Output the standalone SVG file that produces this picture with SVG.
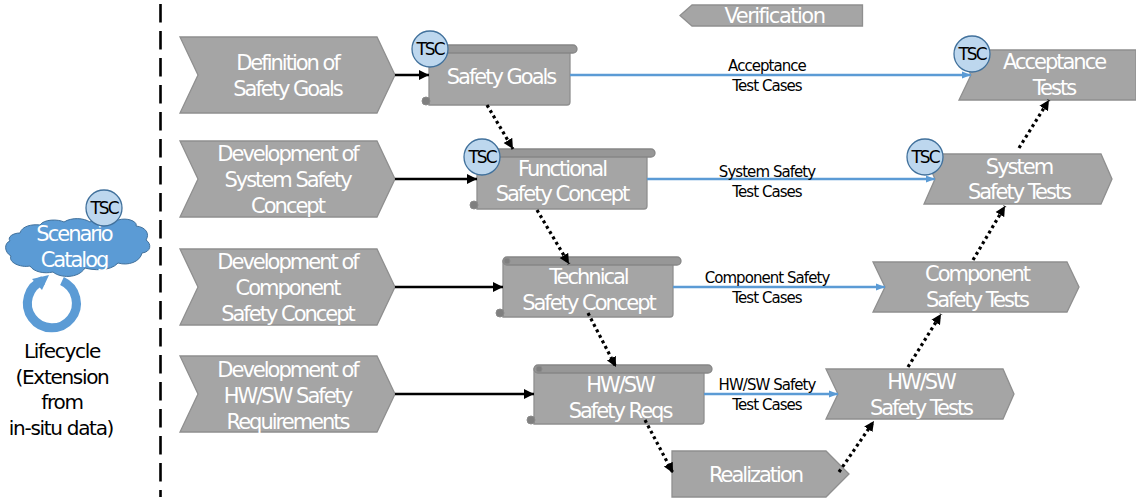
<svg xmlns="http://www.w3.org/2000/svg" width="1136" height="499" viewBox="0 0 1136 499">
<style>
text{font-family:"DejaVu Sans",sans-serif;text-anchor:middle}
.sh{fill:#a5a5a5;stroke:#8f8f8f;stroke-width:1.3}
.bar{fill:#979797;stroke:#878787;stroke-width:1.3}
.curl{fill:#7f7f7f;stroke:#8a8a8a}
.t{fill:#fff;font-size:21px;letter-spacing:-2px}
.v{letter-spacing:-1.5px}
.l{fill:#000;font-size:15px;letter-spacing:-.95px}
.b{fill:#000;font-size:20px;letter-spacing:-1.3px}
.tsc{fill:#bdd7ee;stroke:#41719c;stroke-width:1.3}
.tt{fill:#000;font-size:17px;letter-spacing:-2px}
.s{stroke:#000;stroke-width:2.6;fill:none}
.d{stroke:#000;stroke-width:3.2;stroke-dasharray:3 3.2;fill:none}
.bl{stroke:#5b9bd5;stroke-width:2.6;fill:none}
</style>
<defs>
<marker id="ak" markerUnits="userSpaceOnUse" markerWidth="11" markerHeight="12" refX="10" refY="6" orient="auto"><path d="M0 1L10 6L0 11Z" fill="#000"/></marker>
<marker id="ab" markerUnits="userSpaceOnUse" markerWidth="10" markerHeight="8" refX="9" refY="4" orient="auto"><path d="M0 0.5L9 4L0 7.5Z" fill="#5b9bd5"/></marker>
</defs>
<path d="M160.500 4V497" stroke="#000" stroke-width="2.6" stroke-dasharray="18.500 8.500" fill="none"/>
<g id="verification"><path class="sh" d="M680 15.500L692 5H862.500V26H692Z"/><text class="t v" x="774.500" y="22.500">Verification</text></g>
<g id="def-goals"><path class="sh" d="M180 37H377L395 75L377 113H180L198 75Z"/><text class="t" x="287.500" y="69.500">Definition of</text><text class="t" x="287.500" y="95.500">Safety Goals</text></g>
<g id="dev-system"><path class="sh" d="M180 141H377L395 179L377 217H180L198 179Z"/><text class="t" x="287.500" y="160.500">Development of</text><text class="t" x="287.500" y="186.500">System Safety</text><text class="t" x="287.500" y="212.500">Concept</text></g>
<g id="dev-component"><path class="sh" d="M180 249H377L395 287L377 325H180L198 287Z"/><text class="t" x="287.500" y="268.500">Development of</text><text class="t" x="287.500" y="294.500">Component</text><text class="t" x="287.500" y="320.500">Safety Concept</text></g>
<g id="dev-hwsw"><path class="sh" d="M180 356H377L395 394L377 432H180L198 394Z"/><text class="t" x="287.500" y="376.500">Development of</text><text class="t" x="287.500" y="402.500">HW/SW Safety</text><text class="t" x="287.500" y="428.500">Requirements</text></g>
<g id="safety-goals"><path class="sh" d="M429 49H570V102Q570 105 567 105H429Z"/><circle class="curl" cx="426" cy="101" r="4"/><rect class="bar" x="429" y="45" width="148" height="8" rx="4"/><text class="t" x="501" y="83.500">Safety Goals</text></g>
<g id="functional"><path class="sh" d="M477 153H647V206Q647 209 644 209H477Z"/><circle class="curl" cx="474" cy="205" r="4"/><rect class="bar" x="477" y="149" width="178" height="8" rx="4"/><text class="t" x="562" y="175.500">Functional</text><text class="t" x="562" y="200.500">Safety Concept</text></g>
<g id="technical"><path class="sh" d="M503 261H673V314Q673 317 670 317H503Z"/><circle class="curl" cx="500" cy="313" r="4"/><rect class="bar" x="503" y="257" width="178" height="8" rx="4"/><circle class="curl" cx="507" cy="261" r="3"/><text class="t" x="588.500" y="283.500">Technical</text><text class="t" x="588.500" y="309.500">Safety Concept</text></g>
<g id="hwsw-reqs"><path class="sh" d="M534 369H704V421Q704 424 701 424H534Z"/><circle class="curl" cx="531" cy="420" r="4"/><rect class="bar" x="534" y="365" width="178" height="8" rx="4"/><circle class="curl" cx="539" cy="369" r="3"/><text class="t" x="620" y="391.500">HW/SW</text><text class="t" x="620" y="417.500">Safety Reqs</text></g>
<g id="realization"><path class="sh" d="M672 451H826L849 474L826 497H672Z"/><text class="t" x="755.500" y="481.500">Realization</text></g>
<g id="acceptance"><path class="sh" d="M959 50H1136V100H959L971 75Z"/><text class="t" x="1054" y="68.500">Acceptance</text><text class="t" x="1054" y="94.500">Tests</text></g>
<g id="system-tests"><path class="sh" d="M924 154H1101L1112 179L1101 204H924L935 179Z"/><text class="t" x="1019" y="173.500">System</text><text class="t" x="1019" y="198.500">Safety Tests</text></g>
<g id="component-tests"><path class="sh" d="M873 262H1067L1079 287L1067 312H873L885 287Z"/><text class="t" x="977" y="280.500">Component</text><text class="t" x="977" y="306.500">Safety Tests</text></g>
<g id="hwsw-tests"><path class="sh" d="M826 369H1003L1014 394L1003 419H826L838 394Z"/><text class="t" x="921" y="388.500">HW/SW</text><text class="t" x="921" y="414.500">Safety Tests</text></g>
<g id="connectors">
<path class="s" d="M395 75H429" marker-end="url(#ak)"/>
<path class="s" d="M395 179H477" marker-end="url(#ak)"/>
<path class="s" d="M395 287H503" marker-end="url(#ak)"/>
<path class="s" d="M395 394H534" marker-end="url(#ak)"/>
<path class="bl" d="M570 75H971" marker-end="url(#ab)"/>
<path class="bl" d="M647 179H935" marker-end="url(#ab)"/>
<path class="bl" d="M673 287H885" marker-end="url(#ab)"/>
<path class="bl" d="M704 394H838" marker-end="url(#ab)"/>
<path class="d" d="M487 105L513 149" marker-end="url(#ak)"/>
<path class="d" d="M537 210L569 264" marker-end="url(#ak)"/>
<path class="d" d="M588 313L616 367" marker-end="url(#ak)"/>
<path class="d" d="M645 420L673 473" marker-end="url(#ak)"/>
<path class="d" d="M839 472L874 421" marker-end="url(#ak)"/>
<path class="d" d="M908 367L941 314" marker-end="url(#ak)"/>
<path class="d" d="M973 260L1005 206" marker-end="url(#ak)"/>
<path class="d" d="M1019 148L1049 100" marker-end="url(#ak)"/>
</g>
<g id="edge-labels">
<text class="l" x="767" y="70.500">Acceptance</text><text class="l" x="767" y="90.500">Test Cases</text>
<text class="l" x="767" y="176.500">System Safety</text><text class="l" x="767" y="196.500">Test Cases</text>
<text class="l" x="767" y="282.500">Component Safety</text><text class="l" x="767" y="302.500">Test Cases</text>
<text class="l" x="767" y="389.500">HW/SW Safety</text><text class="l" x="767" y="409.500">Test Cases</text>
</g>
<g id="catalog">
<path d="M52 303m-9-22.500A24.500 24.500 0 1 0 62 281" fill="none" stroke="#5b9bd5" stroke-width="9"/>
<path d="M49 275L32 279L42 290Z" fill="#5b9bd5"/>
<path d="M20 233C22 226 32 224 40 225C44 219 58 219 64 222C72 217 84 218 90 222C96 218 112 216 118 220C128 217 138 222 136 226C146 227 150 234 146 240C152 244 151 252 142 253C140 262 128 266 118 263C110 272 92 270 85 268C78 279 60 278 53 272C44 274 34 272 30 266C20 268 8 262 11 256C4 252 4 243 10 241C7 237 13 233 20 233Z" fill="#5b9bd5" stroke="#41719c" stroke-width="1"/>
<text class="t" x="74" y="240.500">Scenario</text><text class="t" x="74" y="266.500">Catalog</text>
</g>
<g id="lifecycle"><text class="b" x="62" y="358">Lifecycle</text><text class="b" x="62" y="384">(Extension</text><text class="b" x="62" y="409">from</text><text class="b" x="61" y="435">in-situ data)</text></g>
<g id="tsc1"><circle class="tsc" cx="430" cy="49" r="18"/><text class="tt" x="430" y="55">TSC</text></g>
<g id="tsc2"><circle class="tsc" cx="482" cy="157" r="18"/><text class="tt" x="482" y="163">TSC</text></g>
<g id="tsc3"><circle class="tsc" cx="972" cy="54" r="18"/><text class="tt" x="972" y="60">TSC</text></g>
<g id="tsc4"><circle class="tsc" cx="925" cy="157" r="18"/><text class="tt" x="925" y="163">TSC</text></g>
<g id="tsc5"><circle class="tsc" cx="104" cy="208" r="18"/><text class="tt" x="104" y="214">TSC</text></g>
</svg>
